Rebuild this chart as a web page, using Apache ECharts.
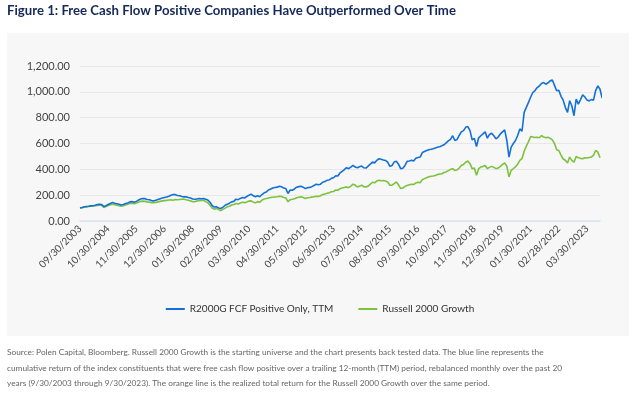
<!DOCTYPE html>
<html><head><meta charset="utf-8">
<script src="https://cdn.jsdelivr.net/npm/echarts@6/dist/echarts.min.js"></script>
<style>html,body{margin:0;padding:0;background:#fff}#c{width:640px;height:403px}</style>
</head><body><div id="c"></div>
<script>
// Monthly categories: 09/30/2003 ... 09/30/2023 (day shown as 30, Feb as 28)
const startYear = 2003, startMonth = 9, monthCount = 241;
const categories = [];
for (let k = 0; k < monthCount; k++) {
  const m0 = startMonth - 1 + k;
  const y = startYear + Math.floor(m0 / 12);
  const m = (m0 % 12) + 1;
  const d = m === 2 ? 28 : 30;
  categories.push(String(m).padStart(2, '0') + '/' + d + '/' + y);
}

const fcfPositive = [
  100, 104, 110, 112,
  114, 117, 118, 122, 128, 130, 127, 112, 118, 128, 136, 144,
  138, 134, 130, 124, 128, 135, 140, 148, 150, 145, 152, 162,
  170, 174, 173, 166, 164, 158, 156, 160, 166, 172, 178, 182,
  186, 192, 200, 205, 204, 198, 195, 190, 187, 188, 182, 178,
  170, 168, 171, 174, 172, 174, 168, 162, 145, 120, 108, 110,
  100, 97, 108, 122, 130, 138, 148, 152, 169, 165, 175, 182,
  178, 190, 200, 208, 195, 187, 195, 188, 205, 218, 225, 240,
  248, 256, 259, 262, 269, 265, 255, 251, 213, 240, 238, 248,
  262, 266, 269, 262, 251, 258, 260, 266, 275, 285, 280, 285,
  300, 305, 315, 318, 330, 335, 350, 348, 372, 385, 398, 413,
  405, 418, 431, 418, 413, 420, 425, 412, 410, 425, 440, 456,
  450, 470, 482, 478, 472, 469, 455, 423, 430, 456, 462, 440,
  405, 408, 430, 462, 465, 470, 465, 485, 492, 495, 530, 538,
  546, 552, 555, 560, 565, 572, 575, 582, 590, 605, 620, 632,
  660, 623, 630, 662, 690, 700, 725, 731, 700, 628, 640, 577,
  644, 660, 674, 690, 641, 670, 679, 660, 636, 650, 674, 690,
  705, 623, 495, 572, 600, 623, 662, 713, 695, 841, 880, 918,
  960, 995, 1010, 1033, 1045, 1064, 1072, 1059, 1070, 1085, 1092, 1050,
  1008, 1013, 965, 935, 880, 841, 931, 892, 815, 944, 905, 940,
  977, 960, 936, 930, 940, 936, 1010, 1046, 1020, 951
];

const russell2000Growth = [
  100, 103, 107, 109,
  112, 115, 116, 118, 121, 123, 122, 105, 112, 120, 126, 130,
  126, 122, 118, 115, 118, 124, 130, 136, 138, 134, 140, 146,
  152, 154, 152, 148, 146, 142, 141, 144, 148, 152, 156, 158,
  160, 162, 164, 161, 167, 165, 167, 168, 169, 164, 160, 156,
  149, 150, 155, 158, 160, 161, 150, 141, 122, 100, 92, 96,
  88, 80, 90, 100, 110, 114, 124, 128, 136, 132, 140, 145,
  142, 148, 154, 156, 146, 141, 150, 145, 162, 170, 174, 178,
  182, 184, 186, 188, 192, 190, 182, 179, 149, 165, 168, 172,
  180, 184, 187, 182, 175, 180, 182, 185, 188, 192, 190, 196,
  205, 208, 215, 218, 226, 228, 240, 238, 250, 256, 260, 264,
  258, 270, 285, 278, 264, 270, 277, 265, 264, 270, 285, 300,
  296, 310, 315, 312, 313, 310, 302, 277, 278, 290, 302, 280,
  251, 255, 268, 275, 280, 285, 282, 295, 300, 296, 320, 328,
  335, 342, 346, 348, 352, 360, 363, 366, 375, 380, 390, 400,
  405, 392, 395, 410, 430, 438, 455, 464, 444, 405, 410, 354,
  405, 418, 423, 430, 405, 415, 423, 415, 405, 410, 423, 438,
  449, 425, 341, 392, 405, 420, 440, 469, 482, 540, 580, 615,
  654, 650, 646, 648, 644, 662, 650, 644, 649, 640, 628, 600,
  551, 546, 510, 480, 470, 449, 495, 469, 456, 500, 490, 485,
  482, 490, 488, 492, 495, 510, 546, 533, 490
];

const seriesNames = ['R2000G FCF Positive Only, TTM', 'Russell 2000 Growth'];
const titleText = 'Figure 1: Free Cash Flow Positive Companies Have Outperformed Over Time';
const footnoteLines = [
  'Source: Polen Capital, Bloomberg. Russell 2000 Growth is the starting universe and the chart presents back tested data. The blue line represents the',
  'cumulative return of the index constituents that were free cash flow positive over a trailing 12-month (TTM) period, rebalanced monthly over the past 20',
  'years (9/30/2003 through 9/30/2023). The orange line is the realized total return for the Russell 2000 Growth over the same period.'
];

const chart = echarts.init(document.getElementById('c'), null, {renderer: 'canvas'});
const fontFam = 'Lato, "Open Sans", sans-serif';
chart.setOption({
  backgroundColor: '#ffffff',
  animation: false,
  graphic: [
    {type: 'rect', z: -10, shape: {x: 7, y: 33, width: 622, height: 303}, style: {fill: '#f7f7f7'}},
    {type: 'text', left: 7, top: 4, style: {text: titleText, font: 'bold 13.2px ' + fontFam, fill: '#14285a'}},
    {type: 'text', left: 7, top: 345, style: {text: footnoteLines.join('\n'), font: '8.3px "Liberation Sans Narrow", Lato, sans-serif', fill: '#666', lineHeight: 15.5}}
  ],
  legend: {
    data: seriesNames, left: 'center', top: 299, icon: 'rect', itemWidth: 19, itemHeight: 2, itemGap: 25,
    textStyle: {fontFamily: fontFam, fontSize: 10, color: '#333'}
  },
  grid: {left: 80, right: 40, top: 66, bottom: 182},
  xAxis: {
    type: 'category', data: categories, boundaryGap: false,
    axisLine: {lineStyle: {color: '#dce2ea', width: 1.5}},
    axisTick: {show: false},
    axisLabel: {interval: 12, rotate: 45, fontFamily: fontFam, fontSize: 10, color: '#444', margin: 6}
  },
  yAxis: {
    type: 'value', min: 0, max: 1200, interval: 200,
    axisLine: {show: false}, axisTick: {show: false},
    splitLine: {lineStyle: {color: '#e8e8e8'}},
    axisLabel: {fontFamily: fontFam, fontSize: 11, color: '#444', margin: 10,
      formatter: v => v.toLocaleString('en-US', {minimumFractionDigits: 2, maximumFractionDigits: 2})}
  },
  series: [
    {name: seriesNames[0], type: 'line', data: fcfPositive, showSymbol: false, lineStyle: {color: '#1470d6', width: 1.6}, itemStyle: {color: '#1470d6'}, z: 3},
    {name: seriesNames[1], type: 'line', data: russell2000Growth, showSymbol: false, lineStyle: {color: '#7cc23f', width: 1.6}, itemStyle: {color: '#7cc23f'}, z: 2}
  ]
});
</script></body></html>
